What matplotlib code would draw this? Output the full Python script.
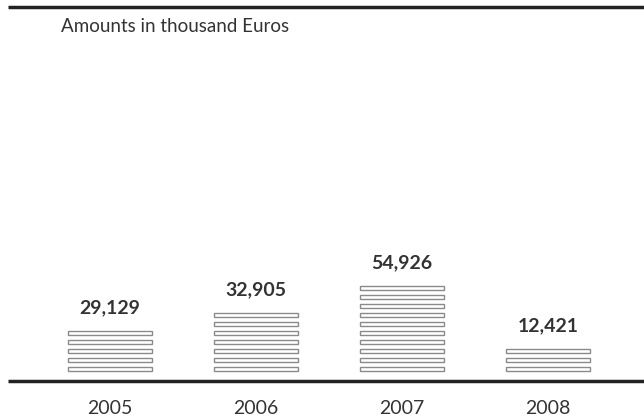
import matplotlib
matplotlib.use("Agg")
import matplotlib.pyplot as plt
from matplotlib.patches import Rectangle

years = ["2005", "2006", "2007", "2008"]
values = [29129, 32905, 54926, 12421]
stripes = [5, 7, 10, 3]

plt.rcParams["font.family"] = ["Lato", "DejaVu Sans"]

fig = plt.figure(figsize=(6.44, 4.2), dpi=100)
ax = fig.add_axes([0, 0, 1, 1])
# one vertical unit = one stripe pitch (9 px), one horizontal unit = one year slot
ax.set_xlim(-110 / 146, (644 - 110) / 146)
ax.set_ylim(-39 / 9, 381 / 9)
ax.axis("off")

bar_w = 0.57
stripe_h = 0.36
first = 1.33

for i, (yr, val, n) in enumerate(zip(years, values, stripes)):
    for k in range(n):
        yc = first + k
        ax.add_patch(Rectangle((i - bar_w / 2, yc - stripe_h / 2), bar_w, stripe_h,
                               facecolor="white", edgecolor="#8a8a8a", lw=1.0))
    top = first + n - 1
    ax.text(i, top + 2.85, f"{val:,}", ha="center", va="center",
            fontsize=14, fontweight="bold", color="#333333")
    ax.text(i, -3.05, yr, ha="center", va="center", fontsize=14, color="#333333")

# baseline and top rule
x0 = ax.get_xlim()[0] + 8 / 146
x1 = ax.get_xlim()[1]
ax.plot([x0, x1], [0, 0], color="#222222", lw=2.5, solid_capstyle="butt")
ax.plot([x0, x1], [(381 - 6.5) / 9] * 2, color="#222222", lw=2.5, solid_capstyle="butt")

ax.text(-110 / 146 + 61 / 146, (381 - 26) / 9, "Amounts in thousand Euros",
        ha="left", va="center", fontsize=13.5, color="#333333")

fig.savefig("out.png", dpi=100)
